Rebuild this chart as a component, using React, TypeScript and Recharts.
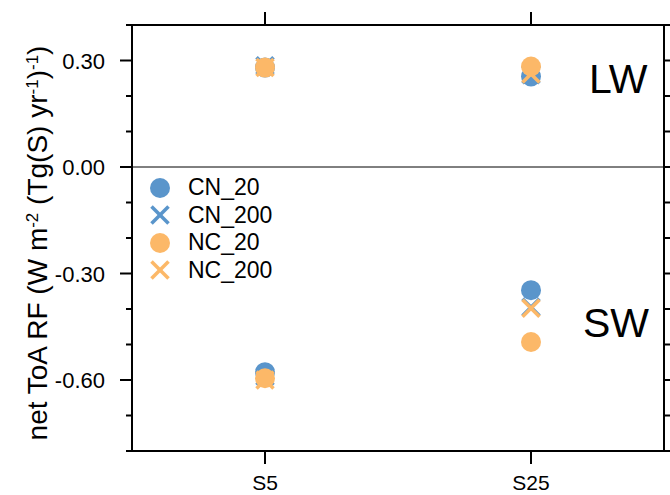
import { ScatterChart, Scatter, XAxis, YAxis, ReferenceLine, Legend, Customized } from "recharts";

const FONT = "'Liberation Sans', Arial, Helvetica, sans-serif";
const BLUE = "#5a95cb";
const ORANGE = "#fcb868";

const categories = ["S5", "S25"];
const catPos = [1, 2];
const yTicks = [-0.8, -0.7, -0.6, -0.5, -0.4, -0.3, -0.2, -0.1, 0, 0.1, 0.2, 0.3, 0.4];
const majorTicks = [-0.6, -0.3, 0, 0.3];

// LW (upper group) and SW (lower group), per experiment S5 / S25
const cn20LW = [0.28, 0.255];
const cn200LW = [0.285, 0.26];
const nc20LW = [0.28, 0.283];
const nc200LW = [0.28, 0.262];
const cn20SW = [-0.578, -0.347];
const cn200SW = [-0.59, -0.395];
const nc20SW = [-0.595, -0.493];
const nc200SW = [-0.6, -0.398];

const pts = (lw: number[], sw: number[]) => [
  ...catPos.map((x, i) => ({ x, y: lw[i] })),
  ...catPos.map((x, i) => ({ x, y: sw[i] })),
];

const series = [
  { name: "CN_20", color: BLUE, cross: false, data: pts(cn20LW, cn20SW) },
  { name: "CN_200", color: BLUE, cross: true, data: pts(cn200LW, cn200SW) },
  { name: "NC_20", color: ORANGE, cross: false, data: pts(nc20LW, nc20SW) },
  { name: "NC_200", color: ORANGE, cross: true, data: pts(nc200LW, nc200SW) },
];

const isMajor = (v: number) => majorTicks.some((m) => Math.abs(m - v) < 1e-6);

function Dot({ cx, cy, color }: any) {
  return <circle cx={cx} cy={cy} r={10} fill={color} />;
}

function Cross({ cx, cy, color }: any) {
  const s = 8.5;
  return (
    <g stroke={color} strokeWidth={3.5}>
      <line x1={cx - s} y1={cy - s} x2={cx + s} y2={cy + s} />
      <line x1={cx - s} y1={cy + s} x2={cx + s} y2={cy - s} />
    </g>
  );
}

function LeftTick({ x, y, payload }: any) {
  const major = isMajor(payload.value);
  return (
    <g>
      <line x1={x - (major ? 12 : 6)} x2={x} y1={y} y2={y} stroke="#000" strokeWidth={2} />
      {major && (
        <text x={x - 27} y={y + 8} textAnchor="end" fontSize={22} fontFamily={FONT} fill="#000">
          {payload.value.toFixed(2)}
        </text>
      )}
    </g>
  );
}

function RightTick({ x, y, payload }: any) {
  const major = isMajor(payload.value);
  return <line x1={x} x2={x + (major ? 12 : 6)} y1={y} y2={y} stroke="#000" strokeWidth={2} />;
}

function BottomTick({ x, y, payload }: any) {
  return (
    <g>
      <line x1={x} x2={x} y1={y} y2={y + 13} stroke="#000" strokeWidth={2} />
      <text x={x} y={y + 39} textAnchor="middle" fontSize={21} fontFamily={FONT} fill="#000">
        {categories[catPos.indexOf(payload.value)]}
      </text>
    </g>
  );
}

function TopTick({ x, y }: any) {
  return <line x1={x} x2={x} y1={y} y2={y - 13} stroke="#000" strokeWidth={2} />;
}

function YLabel() {
  const sup = { baselineShift: "super", fontSize: 17 } as any;
  return (
    <text x={47} y={243} transform="rotate(-90, 47, 243)" textAnchor="middle" fontSize={28} fontFamily={FONT} fill="#000">
      net ToA RF (W m<tspan style={sup}>-2</tspan> (Tg(S) yr<tspan style={sup}>-1</tspan>)<tspan style={sup}>-1</tspan>)
    </text>
  );
}

function LegendBox() {
  return (
    <div style={{ fontFamily: FONT, fontSize: 23, color: "#000" }}>
      {series.map((s) => (
        <div key={s.name} style={{ display: "flex", alignItems: "center", height: 27.5 }}>
          <svg width={28} height={26} style={{ marginRight: 14 }}>
            {s.cross ? <Cross cx={14} cy={13} color={s.color} /> : <Dot cx={14} cy={13} color={s.color} />}
          </svg>
          <span>{s.name}</span>
        </div>
      ))}
    </div>
  );
}

function BandLabels() {
  return (
    <g fontFamily={FONT} fontSize={41} fill="#000">
      <text x={589} y={93}>LW</text>
      <text x={583} y={337}>SW</text>
    </g>
  );
}

export default function App() {
  return (
    <div style={{ position: "absolute", left: 0, top: 0, background: "#fff" }}>
      <ScatterChart width={670} height={495} margin={{ top: 0, right: 0, bottom: 0, left: 0 }}>
        <XAxis
          dataKey="x"
          type="number"
          domain={[0.5, 2.5]}
          ticks={catPos}
          height={44}
          tickSize={0}
          tickMargin={0}
          tick={<BottomTick />}
          axisLine={{ stroke: "#000", strokeWidth: 2 }}
          tickLine={false}
          allowDataOverflow
        />
        <XAxis
          xAxisId="top"
          orientation="top"
          dataKey="x"
          type="number"
          domain={[0.5, 2.5]}
          ticks={catPos}
          height={25}
          tickSize={0}
          tickMargin={0}
          tick={<TopTick />}
          axisLine={{ stroke: "#000", strokeWidth: 2 }}
          tickLine={false}
          allowDataOverflow
        />
        <YAxis
          dataKey="y"
          type="number"
          domain={[-0.8, 0.4]}
          ticks={yTicks}
          width={132}
          tickSize={0}
          tickMargin={0}
          tick={<LeftTick />}
          axisLine={{ stroke: "#000", strokeWidth: 2 }}
          tickLine={false}
          allowDataOverflow
          interval={0}
          label={{ content: <YLabel /> }}
        />
        <YAxis
          yAxisId="right"
          orientation="right"
          dataKey="y"
          type="number"
          domain={[-0.8, 0.4]}
          ticks={yTicks}
          width={6}
          tickSize={0}
          tickMargin={0}
          tick={<RightTick />}
          axisLine={{ stroke: "#000", strokeWidth: 2 }}
          tickLine={false}
          allowDataOverflow
          interval={0}
        />
        <ReferenceLine y={0} stroke="#000" strokeWidth={1} />
        {series.map((s) => (
          <Scatter
            key={s.name}
            name={s.name}
            data={s.data}
            isAnimationActive={false}
            shape={(p: any) => (s.cross ? <Cross cx={p.cx} cy={p.cy} color={s.color} /> : <Dot cx={p.cx} cy={p.cy} color={s.color} />)}
          />
        ))}
        <Legend
          layout="vertical"
          align="center"
          verticalAlign="middle"
          content={<LegendBox />}
          wrapperStyle={{ left: 146, top: 174, width: 160, height: 112 }}
        />
        <Customized component={<BandLabels />} />
      </ScatterChart>
    </div>
  );
}
